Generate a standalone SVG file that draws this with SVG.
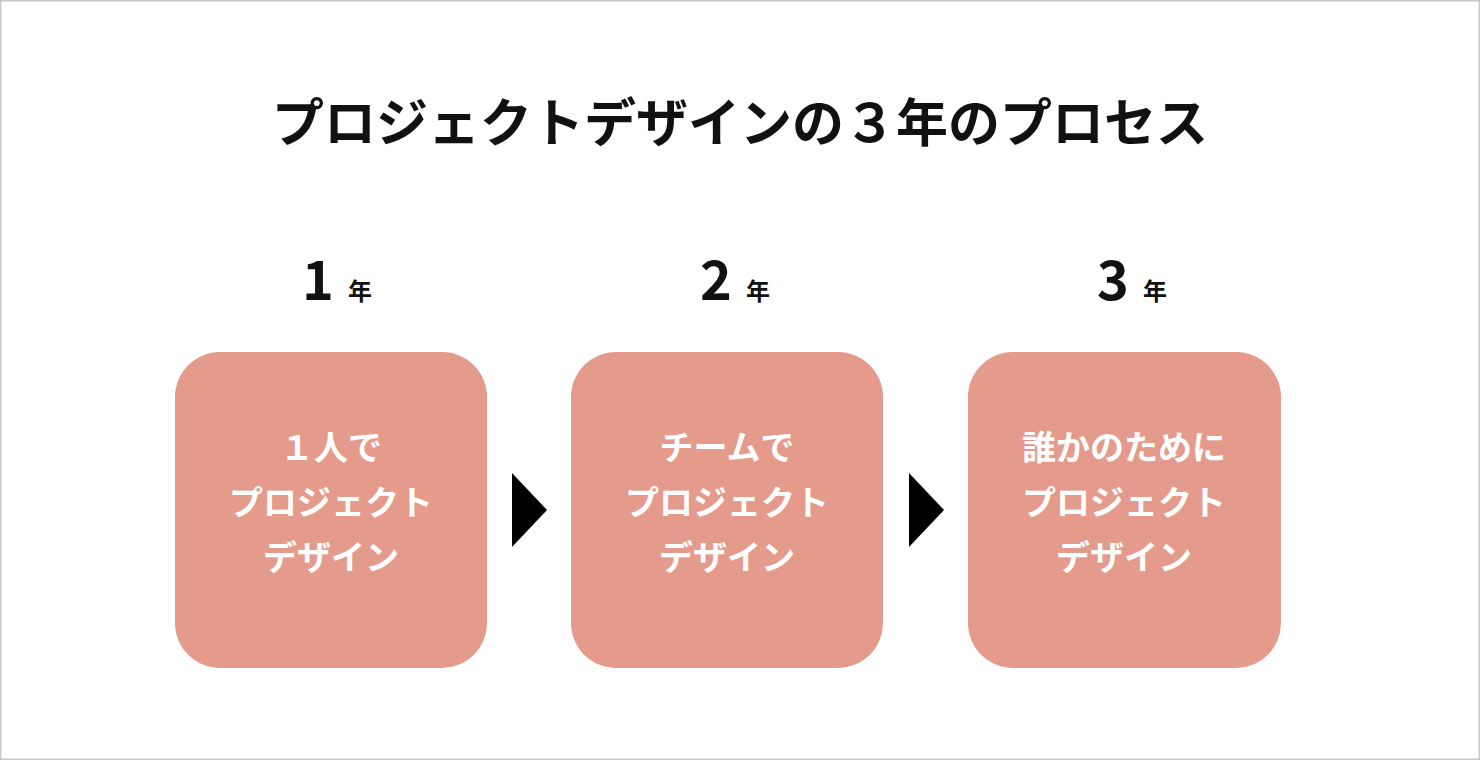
<svg xmlns="http://www.w3.org/2000/svg" width="1480" height="760" viewBox="0 0 1480 760">
<style>
text{font-family:"Noto Sans CJK JP","Noto Sans",sans-serif;font-weight:700;text-anchor:middle}
.t{font-size:52px;fill:#111}
.big{font-size:54px;fill:#111}
.sm{font-size:24px;fill:#111}
.box{fill:#E59B8C}
.bt{font-size:34px;fill:#fff}
.arr{fill:#000}
</style>
<rect x="0" y="0" width="1480" height="760" fill="#fff"/>
<rect x="0.5" y="0.5" width="1479" height="759" fill="none" stroke="#c8c8c8" stroke-width="2"/>
<text class="t" x="740" y="142">プロジェクトデザインの３年のプロセス</text>
<g id="year1"><text class="big" x="318" y="300">1</text><text class="sm" x="360" y="300">年</text></g>
<g id="year2"><text class="big" x="716" y="300">2</text><text class="sm" x="758" y="300">年</text></g>
<g id="year3"><text class="big" x="1113" y="300">3</text><text class="sm" x="1155" y="300">年</text></g>
<g id="node1"><rect class="box" x="175" y="352" width="312" height="316" rx="45"/>
<text class="bt" x="331" y="460">１人で</text><text class="bt" x="331" y="515">プロジェクト</text><text class="bt" x="331" y="570">デザイン</text></g>
<g id="node2"><rect class="box" x="571" y="352" width="312" height="316" rx="45"/>
<text class="bt" x="727" y="460">チームで</text><text class="bt" x="727" y="515">プロジェクト</text><text class="bt" x="727" y="570">デザイン</text></g>
<g id="node3"><rect class="box" x="968" y="352" width="313" height="316" rx="45"/>
<text class="bt" x="1124" y="460">誰かのために</text><text class="bt" x="1124" y="515">プロジェクト</text><text class="bt" x="1124" y="570">デザイン</text></g>
<g id="connectors">
<polygon class="arr" points="512,473 547,510 512,547"/>
<polygon class="arr" points="909,473 944,510 909,547"/>
</g>
</svg>
